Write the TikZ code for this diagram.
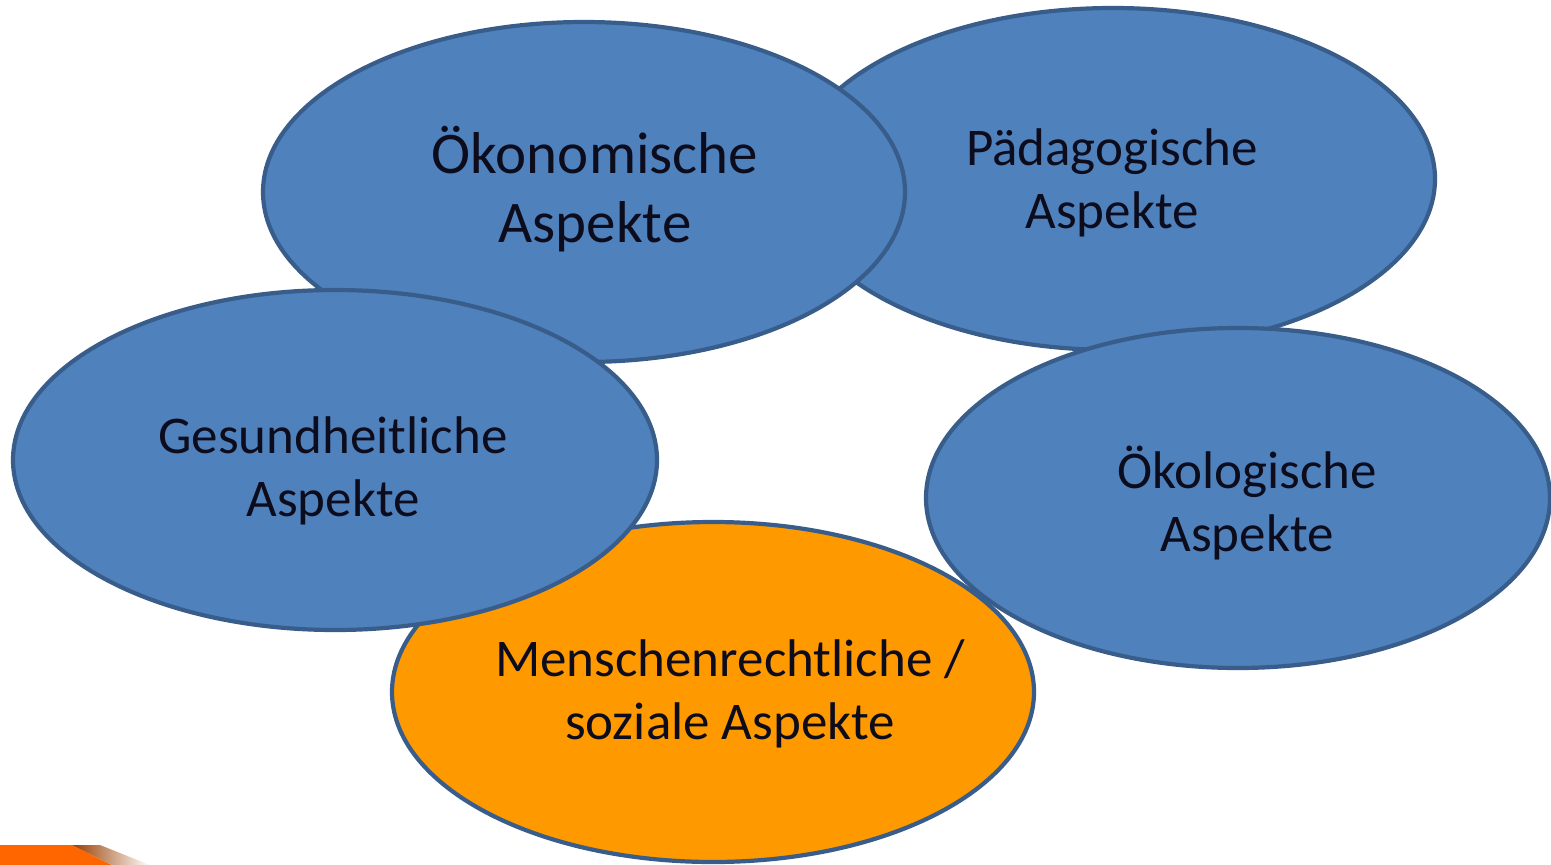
\documentclass[tikz,border=0pt]{standalone}
\usepackage{fontspec}
\setmainfont{Carlito}
\usetikzlibrary{shapes.geometric}
\definecolor{bluefill}{RGB}{79,129,189}
\definecolor{blueline}{RGB}{56,93,138}
\definecolor{orangefill}{RGB}{255,153,0}
\definecolor{logoorange}{RGB}{255,102,0}
\definecolor{txt}{RGB}{12,12,28}
\tikzset{
  blob/.style={ellipse, draw=blueline, line width=4.2pt, inner sep=0pt},
  blueblob/.style={blob, fill=bluefill},
  orangeblob/.style={blob, fill=orangefill},
  lbl/.style={text=txt, align=center, inner sep=0pt, font=\fontsize{53}{63}\selectfont},
  biglbl/.style={lbl, font=\fontsize{59}{69}\selectfont}
}
\begin{document}
\begin{tikzpicture}[x=1pt,y=-1pt]
\useasboundingbox (0,0) rectangle (1551,865);
% ellipses, back to front
\node[blueblob, minimum width=644pt, minimum height=342pt] (paed) at (1113,179) {};
\node[blueblob, minimum width=642pt, minimum height=340pt] (oekon) at (584,192) {};
\node[orangeblob, minimum width=642pt, minimum height=340pt] (mensch) at (713,692) {};
\node[blueblob, minimum width=644pt, minimum height=340pt] (gesund) at (335,460) {};
\node[blueblob, minimum width=624pt, minimum height=340pt] (oekol) at (1238,498) {};
% labels
\node[biglbl] (toekon) at (595,189) {Ökonomische\\Aspekte};
\node[lbl] (tpaed) at (1112,183) {Pädagogische\\Aspekte};
\node[lbl] (tgesund) at (333,471) {Gesundheitliche\\Aspekte};
\node[lbl] (toekol) at (1247,503) {Ökologische\\Aspekte};
\node[lbl] (tmensch) at (730,694) {Menschenrechtliche /\\soziale Aspekte};
% logo fragment bottom left
\fill[logoorange] (0,845) -- (72,845) -- (112,865) -- (0,865) -- cycle;
\shade[left color=logoorange!60!black, right color=white] (72,845) -- (100,845) -- (150,865) -- (112,865) -- cycle;
\end{tikzpicture}
\end{document}
